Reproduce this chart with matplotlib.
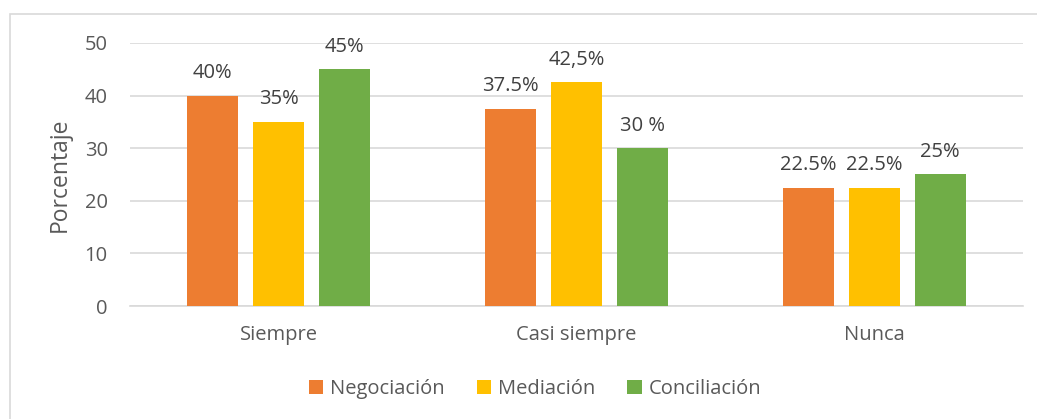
import matplotlib.pyplot as plt
import numpy as np
from matplotlib.patches import Rectangle

categorias = ['Siempre', 'Casi siempre', 'Nunca']
negociacion = [40, 37.5, 22.5]
mediacion = [35, 42.5, 22.5]
conciliacion = [45, 30, 25]
etiquetas_neg = ['40%', '37.5%', '22.5%']
etiquetas_med = ['35%', '42,5%', '22.5%']
etiquetas_con = ['45%', '30 %', '25%']

plt.rcParams['font.family'] = ['Open Sans', 'DejaVu Sans']
gris = '#595959'

fig = plt.figure(figsize=(10.37, 4.19), dpi=100)
ax = fig.add_axes([130 / 1037, 1 - 306 / 419, 893 / 1037, 263 / 419])

# marco del grafico
fig.patches.append(Rectangle((10 / 1037, -0.05), 1.1, 1 - 14 / 419 + 0.05,
                             transform=fig.transFigure, fill=False,
                             edgecolor='#d9d9d9', linewidth=1.2))

x = np.arange(len(categorias))
ancho = 0.171
sep = 0.222
series = [
    (negociacion, etiquetas_neg, '#ed7d31', 'Negociación', -sep),
    (mediacion, etiquetas_med, '#ffc000', 'Mediación', 0),
    (conciliacion, etiquetas_con, '#70ad47', 'Conciliación', sep),
]
for valores, etiquetas, color, nombre, dx in series:
    barras = ax.bar(x + dx, valores, ancho, color=color, label=nombre, zorder=3)
    ax.bar_label(barras, labels=etiquetas, padding=9, fontsize=14.5, color='#404040')

ax.set_xlim(-0.5, 2.5)
ax.set_ylim(0, 50)
ax.set_yticks(range(0, 51, 10))
ax.set_xticks(x)
ax.set_xticklabels(categorias)
ax.tick_params(axis='both', length=0, labelsize=14.5, labelcolor=gris)
ax.tick_params(axis='x', pad=14)
ax.tick_params(axis='y', pad=16)
ax.grid(axis='y', color='#d9d9d9', linewidth=1.2, zorder=0)
for lado in ['top', 'right', 'left']:
    ax.spines[lado].set_visible(False)
ax.spines['bottom'].set_color('#d9d9d9')
ax.spines['bottom'].set_linewidth(1.2)
ax.set_ylabel('Porcentaje', fontsize=16.5, color=gris)
ax.yaxis.set_label_coords(-58 / 893, 0.5)

fig.legend(loc='center', bbox_to_anchor=(535 / 1037, 1 - 389 / 419), ncol=3,
           frameon=False, fontsize=14.5, labelcolor=gris, handlelength=0.7,
           handleheight=0.7, handletextpad=0.35, columnspacing=1.6)

fig.savefig('out.png', dpi=100)
